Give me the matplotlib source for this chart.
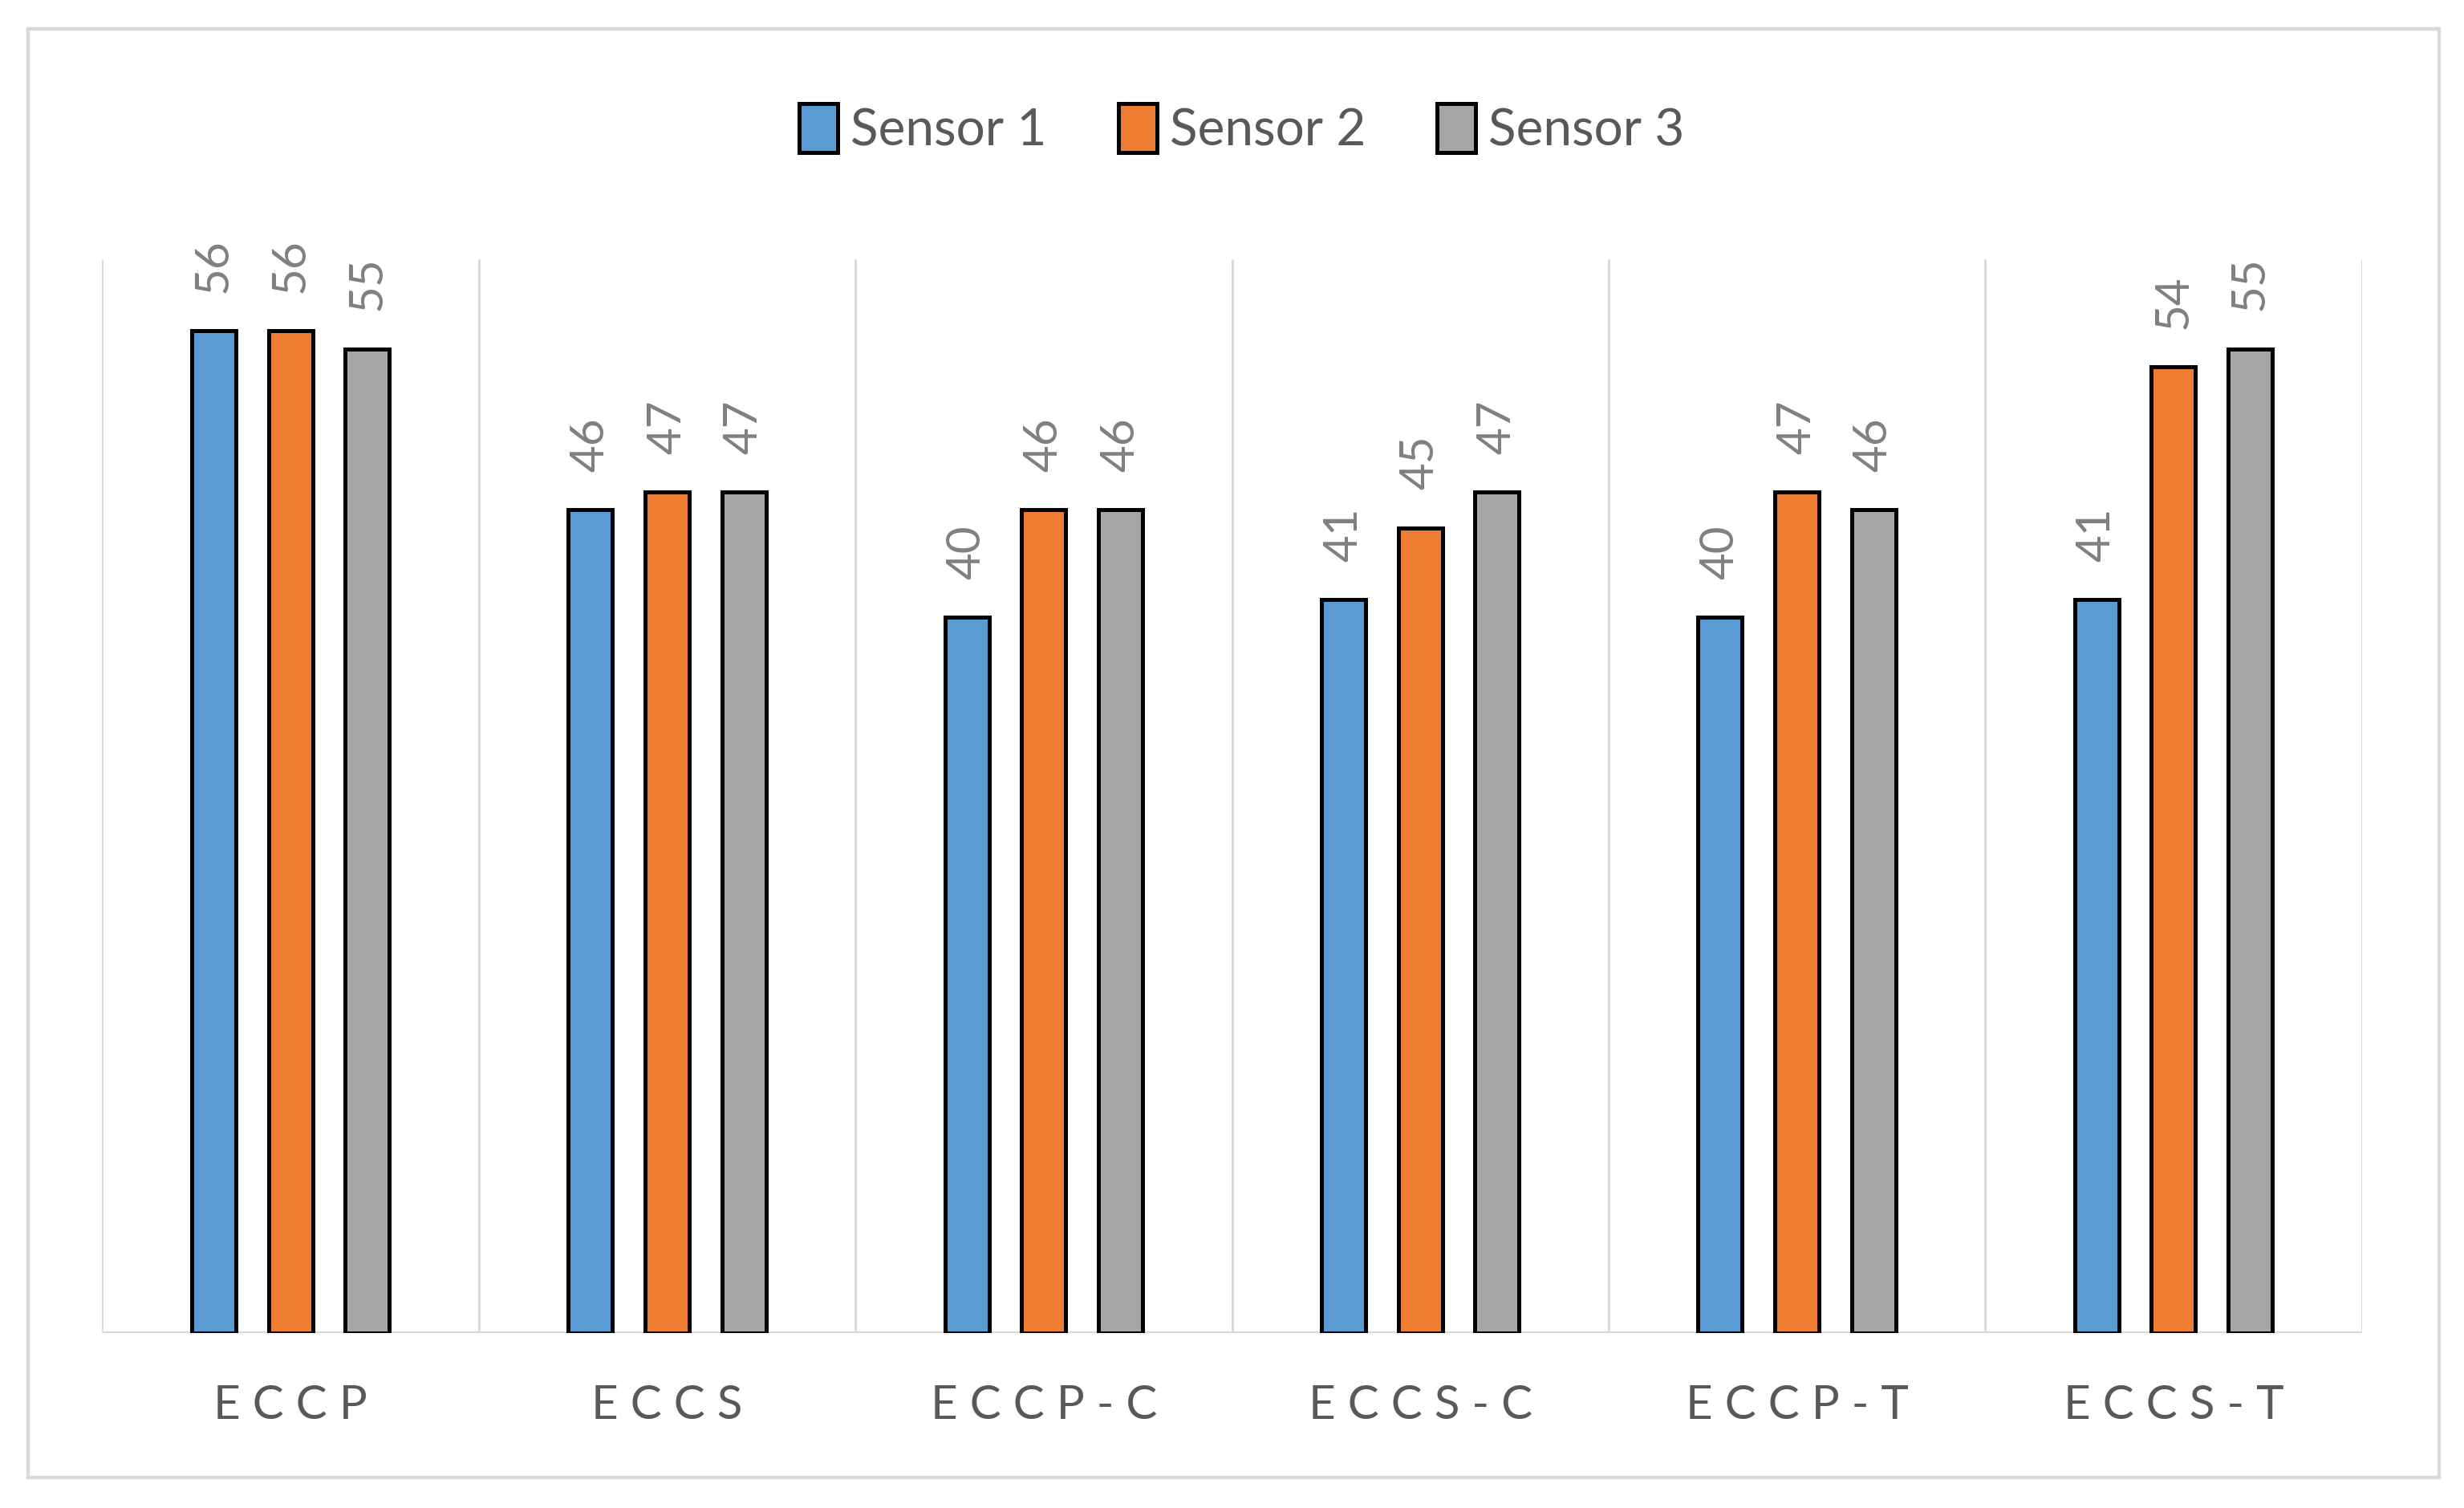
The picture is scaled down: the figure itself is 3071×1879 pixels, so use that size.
import matplotlib
matplotlib.use('Agg')
import matplotlib.pyplot as plt
import matplotlib.patches as mpatches
import numpy as np

categories = ["ECCP", "ECCS", "ECCP-C", "ECCS-C", "ECCP-T", "ECCS-T"]
series_names = ["Sensor 1", "Sensor 2", "Sensor 3"]
sensor1 = [56, 46, 40, 41, 40, 41]
sensor2 = [56, 47, 46, 45, 47, 54]
sensor3 = [55, 47, 46, 47, 46, 55]
colors = ["#5B9BD5", "#ED7D31", "#A5A5A5"]

plt.rcParams['font.family'] = ['Lato', 'DejaVu Sans']

fig = plt.figure(figsize=(15.355, 9.395), dpi=200)
ax = fig.add_axes([0.0415, 0.1161, 0.917, 0.7119])

x = np.arange(len(categories))
bar_w = 0.117
step = 0.204
for i, (vals, name) in enumerate(zip([sensor1, sensor2, sensor3], series_names)):
    pos = x + (i - 1) * step
    ax.bar(pos, vals, width=bar_w, color=colors[i], edgecolor='black',
           linewidth=1.8, label=name, zorder=3)
    for px, v in zip(pos, vals):
        ax.annotate(str(v), (px, v), xytext=(0, 17), textcoords='offset points',
                    rotation=90, ha='center', va='bottom', fontsize=21,
                    color='#808080')

ax.set_xlim(-0.5, len(categories) - 0.5)
ax.set_ylim(0, 60)
# category separators
ax.vlines(np.arange(len(categories) + 1) - 0.5, 0, 60, color='#D9D9D9',
          linewidth=1.1, zorder=1)
ax.axhline(0, color='#D9D9D9', linewidth=1.5, zorder=2)
for s in ax.spines.values():
    s.set_visible(False)
ax.set_yticks([])
ax.set_xticks(x)
ax.set_xticklabels([" ".join(c) for c in categories], fontsize=21, color='#595959')
ax.tick_params(axis='x', length=0, pad=23)

leg = fig.legend(loc='center', bbox_to_anchor=(0.504, 0.9145), ncol=3,
                 frameon=False, fontsize=23, handlelength=0.75, handleheight=1.1,
                 handletextpad=0.25, columnspacing=1.4, labelcolor='#595959')

# outer frame
fig.patches.append(mpatches.Rectangle((0.0115, 0.0202), 0.9783, 0.9608,
                                      transform=fig.transFigure, fill=False,
                                      edgecolor='#D9D9D9', linewidth=1.6))

fig.savefig('out.png', dpi=200)
